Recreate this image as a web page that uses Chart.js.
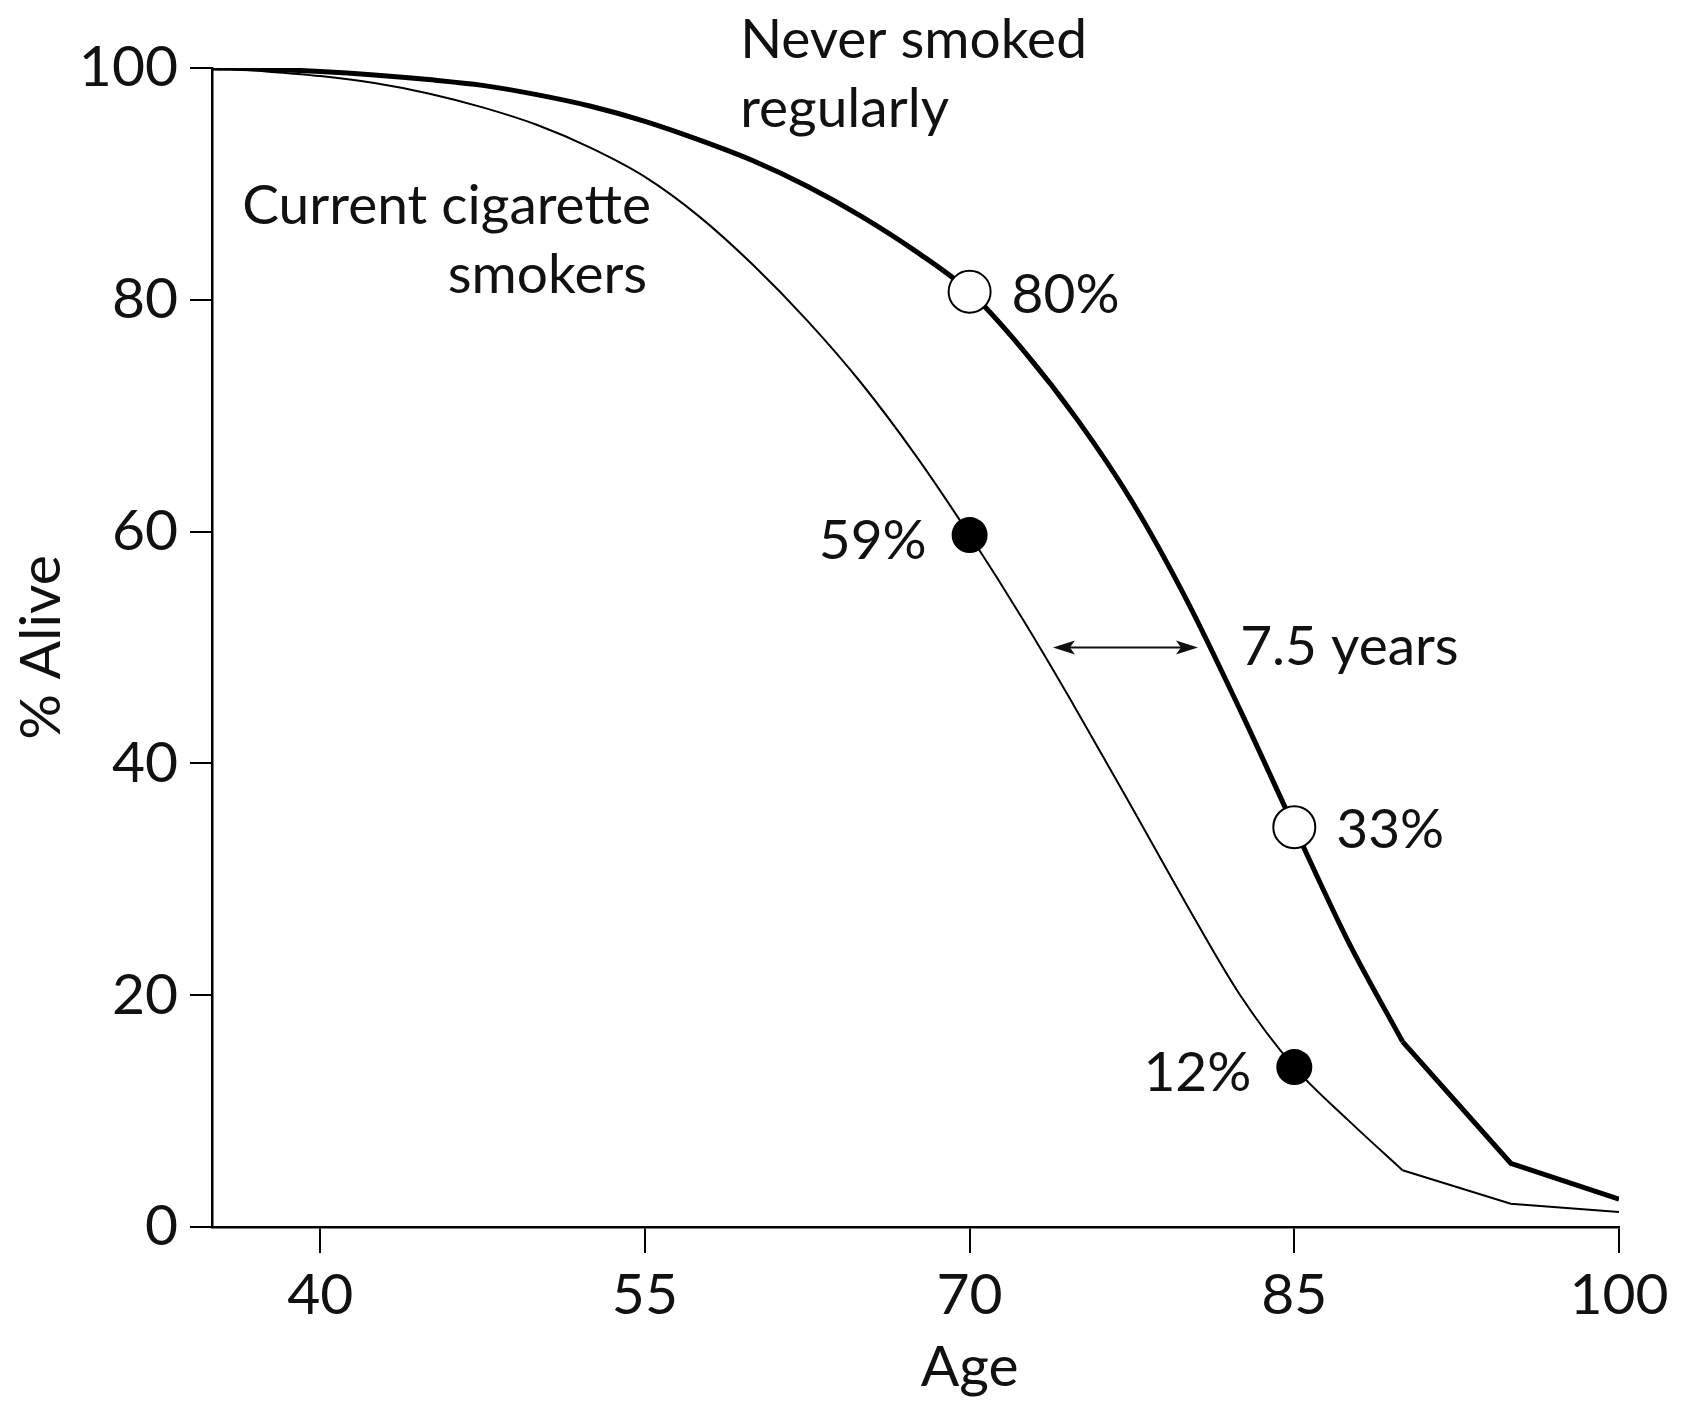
<!DOCTYPE html>
<html>
<head>
<meta charset="utf-8">
<script src="https://cdn.jsdelivr.net/npm/chart.js@4"></script>
<style>
  body { margin: 0; background: #fff; }
  #wrap { width: 1691px; height: 1404px; }
</style>
</head>
<body>
<div id="wrap"><canvas id="chartSobrevida" width="1691" height="1404"></canvas></div>
<script>
// ages, % alive
var ages = [35, 37.5, 40, 42.5, 45, 47.5, 50, 52.5, 55, 57.5, 60, 62.5, 65, 67.5, 70, 72.5, 75, 77.5, 80, 82.5, 85, 87.5, 90, 95, 100];
var neverSmoked = [100, 99.9, 99.7, 99.4, 99.0, 98.5, 97.7, 96.7, 95.4, 93.8, 92.0, 89.8, 87.2, 84.2, 80.7, 75.6, 69.6, 62.6, 54.2, 44.6, 34.5, 24.6, 16.0, 5.5, 2.4];
var currentSmokers = [100, 99.7, 99.3, 98.7, 97.8, 96.6, 95.1, 93.1, 90.6, 87.2, 83.0, 78.2, 72.8, 66.6, 59.7, 52.3, 44.4, 36.2, 27.9, 20.0, 13.8, 9.2, 4.9, 2.0, 1.3];

var markerAges = [70, 85];
var neverLabels = ['80%', '33%'];
var smokerLabels = ['59%', '12%'];

var xTicks = [40, 55, 70, 85, 100];
var yTicks = [0, 20, 40, 60, 80, 100];

// beyond this age the source curves are straight segments
var idadeQuebra = 90;

var fonte = 'Lato, "Open Sans", sans-serif';
var corTexto = '#111';

function montaPontos(valores, ini, fim) {
    var pontos = [];
    for (let i = ini; i <= fim; i++) {
        pontos.push({ x: ages[i], y: valores[i] });
    }
    return pontos;
}

function raioMarcador(r, ini, fim) {
    var raios = [];
    for (let i = ini; i <= fim; i++) {
        raios.push(markerAges.indexOf(ages[i]) >= 0 ? r : 0);
    }
    return raios;
}

// text notes on the plot, anchored in data units
var notas = [
    { text: 'Never smoked', x: 59.4, y: 100.9, align: 'left' },
    { text: 'regularly', x: 59.4, y: 94.9, align: 'left' },
    { text: 'Current cigarette', x: 36.4, y: 86.5, align: 'left' },
    { text: 'smokers', x: 55.1, y: 80.6, align: 'right' },
    { text: '7.5 years', x: 82.5, y: 48.5, align: 'left' }
];
var seta = { y: 50, de: 73.85, ate: 80.55 };

var pluginNotas = {
    id: 'notas',
    afterDatasetsDraw: function (chart) {
        var ctx = chart.ctx;
        var sx = chart.scales.x;
        var sy = chart.scales.y;
        ctx.save();
        ctx.fillStyle = corTexto;
        ctx.font = '55px ' + fonte;
        ctx.textBaseline = 'alphabetic';
        notas.forEach(function (n) {
            ctx.textAlign = n.align;
            ctx.fillText(n.text, sx.getPixelForValue(n.x), sy.getPixelForValue(n.y));
        });

        // marker labels next to the points
        var metaNever = chart.getDatasetMeta(0);
        var metaSmk = chart.getDatasetMeta(1);
        markerAges.forEach(function (a, k) {
            var idx = ages.indexOf(a);
            var p = metaNever.data[idx];
            ctx.textAlign = 'left';
            ctx.fillText(neverLabels[k], p.x + 42, p.y + 21);
            var q = metaSmk.data[idx];
            ctx.textAlign = 'right';
            ctx.fillText(smokerLabels[k], q.x - 43, q.y + 24);
        });

        // x axis title, set under the 70 tick as in the source
        ctx.font = '57px ' + fonte;
        ctx.textAlign = 'center';
        ctx.textBaseline = 'middle';
        ctx.fillText('Age', sx.getPixelForValue(70), sx.bottom - 36);

        // double arrow
        var y = sy.getPixelForValue(seta.y);
        var x1 = sx.getPixelForValue(seta.de);
        var x2 = sx.getPixelForValue(seta.ate);
        ctx.strokeStyle = corTexto;
        ctx.lineWidth = 2;
        ctx.beginPath();
        ctx.moveTo(x1 + 4, y);
        ctx.lineTo(x2 - 4, y);
        ctx.stroke();
        ctx.beginPath();
        ctx.moveTo(x1, y);
        ctx.lineTo(x1 + 22, y - 7);
        ctx.lineTo(x1 + 17, y);
        ctx.lineTo(x1 + 22, y + 7);
        ctx.closePath();
        ctx.moveTo(x2, y);
        ctx.lineTo(x2 - 22, y - 7);
        ctx.lineTo(x2 - 17, y);
        ctx.lineTo(x2 - 22, y + 7);
        ctx.closePath();
        ctx.fillStyle = corTexto;
        ctx.fill();
        ctx.restore();
    }
};

plotarGrafico();

function plotarGrafico() {
    var ctx = document.getElementById('chartSobrevida');
    var q = ages.indexOf(idadeQuebra);
    var ult = ages.length - 1;

    var dadosNunca = {
        data: montaPontos(neverSmoked, 0, q),
        label: 'Never smoked regularly',
        borderColor: '#000',
        borderWidth: 5,
        cubicInterpolationMode: 'monotone',
        pointRadius: raioMarcador(21, 0, q),
        pointBackgroundColor: '#fff',
        pointBorderColor: '#000',
        pointBorderWidth: 2,
        fill: false,
        order: 1
    };

    var dadosFumantes = {
        data: montaPontos(currentSmokers, 0, q),
        label: 'Current cigarette smokers',
        borderColor: '#000',
        borderWidth: 2,
        cubicInterpolationMode: 'monotone',
        pointRadius: raioMarcador(18, 0, q),
        pointBackgroundColor: '#000',
        pointBorderColor: '#000',
        pointBorderWidth: 0,
        fill: false,
        order: 2
    };

    var caudaNunca = {
        data: montaPontos(neverSmoked, q, ult),
        borderColor: '#000',
        borderWidth: 5,
        tension: 0,
        pointRadius: 0,
        fill: false,
        order: 3
    };

    var caudaFumantes = {
        data: montaPontos(currentSmokers, q, ult),
        borderColor: '#000',
        borderWidth: 2,
        tension: 0,
        pointRadius: 0,
        fill: false,
        order: 4
    };

    new Chart(ctx, {
        type: 'line',
        data: { datasets: [dadosNunca, dadosFumantes, caudaNunca, caudaFumantes] },
        plugins: [pluginNotas],
        options: {
            responsive: false,
            animation: false,
            events: [],
            layout: { padding: { top: 68, right: 72, bottom: 0, left: 0 } },
            plugins: {
                legend: { display: false },
                tooltip: { enabled: false }
            },
            scales: {
                x: {
                    type: 'linear',
                    min: 35,
                    max: 100,
                    afterBuildTicks: function (scale) {
                        scale.ticks = xTicks.map(function (v) { return { value: v }; });
                    },
                    afterFit: function (scale) { scale.height = 177; },
                    border: { display: true, color: '#000', width: 2.5 },
                    grid: { drawOnChartArea: false, drawTicks: true, tickLength: 26, color: '#000', lineWidth: 2 },
                    ticks: { color: corTexto, padding: 8, font: { family: fonte, size: 57 }, maxRotation: 0 },
                    title: { display: false }
                },
                y: {
                    type: 'linear',
                    min: 0,
                    max: 100,
                    afterBuildTicks: function (scale) {
                        scale.ticks = yTicks.map(function (v) { return { value: v }; });
                    },
                    afterFit: function (scale) { scale.width = 212; },
                    border: { display: true, color: '#000', width: 2.5 },
                    grid: { drawOnChartArea: false, drawTicks: true, tickLength: 22, color: '#000', lineWidth: 2 },
                    ticks: { color: corTexto, padding: 12, font: { family: fonte, size: 57 } },
                    title: { display: true, text: '% Alive', color: corTexto, font: { family: fonte, size: 57 }, padding: { top: 7, bottom: 0 } }
                }
            }
        }
    });
}
</script>
</body>
</html>
